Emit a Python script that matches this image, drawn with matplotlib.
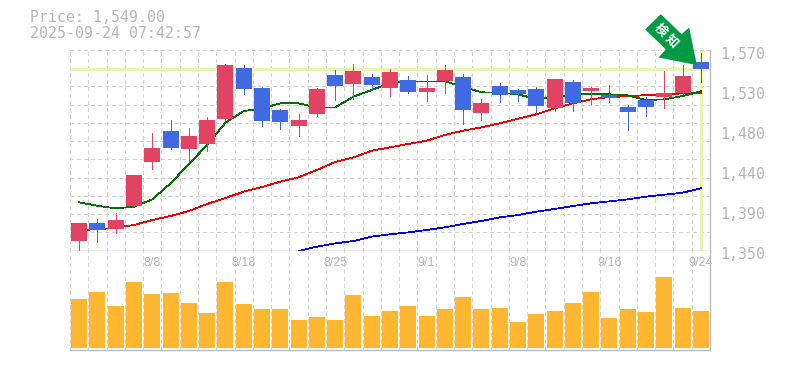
import numpy as np
import matplotlib
matplotlib.use('Agg')
import matplotlib.pyplot as plt
from matplotlib.patches import Polygon

opens = [1361, 1380, 1374, 1399, 1447, 1481, 1462, 1467, 1494, 1550, 1528, 1504,
         1487, 1500, 1543, 1533, 1540, 1528, 1537, 1524, 1536, 1540, 1501, 1530.5,
         1526, 1527, 1506, 1535, 1525, 1521, 1507.5, 1515, 1518, 1523, 1557]
closes = [1380, 1373, 1384, 1433, 1463, 1463, 1476, 1493, 1553.5, 1527, 1492, 1491,
          1493, 1527, 1530.5, 1547, 1532, 1546, 1524, 1528, 1548, 1504, 1512, 1521,
          1522, 1509, 1538, 1512, 1528, 1517.5, 1502, 1507.5, 1523, 1541.5, 1549]
highs = [1380, 1385, 1391, 1433, 1479, 1493, 1484.5, 1496.5, 1554.5, 1553.5, 1529.5, 1505,
         1500, 1528, 1548, 1554.5, 1544, 1549, 1541.5, 1542.5, 1553.5, 1544, 1516, 1534,
         1527, 1529, 1538, 1537, 1529.5, 1531.5, 1510, 1518.5, 1547, 1553.5, 1567]
lows = [1350, 1359, 1369, 1399, 1439.5, 1462, 1448, 1459, 1493, 1522, 1487, 1483,
        1476, 1497.5, 1515, 1516, 1526, 1519.5, 1523, 1514, 1523, 1489, 1493, 1513,
        1514, 1501, 1503, 1503, 1511, 1513, 1482, 1497.5, 1506.5, 1522, 1535]

ma_short = [1403, 1399.3, 1396.4, 1398.3, 1406.3, 1423.8, 1445, 1465.8, 1490.3, 1503.1, 1506, 1511.5,
            1511.5, 1507, 1507.1, 1518.8, 1526.1, 1533.8, 1535.6, 1535.6, 1535.6, 1529.8, 1523.6, 1523.2,
            1521.4, 1516.3, 1518.8, 1520.6, 1522.1, 1521.4, 1520.3, 1515.2, 1515.9, 1519.5, 1524.7]
ma_mid = [1372.7, 1373.4, 1375.2, 1378.2, 1383.6, 1388, 1393.5, 1401.2, 1407.8, 1414.7, 1419.8, 1425.7,
          1430.4, 1438.5, 1447.2, 1452.3, 1459.6, 1463.3, 1467, 1470.6, 1476.8, 1481.6, 1485.2, 1489.6,
          1494.7, 1499.5, 1506, 1511.5, 1515.9, 1518.5, 1519.2, 1520.6, 1521, 1522.5, 1523.2]
ma_long = [np.nan] * 12 + [1349.7, 1354.4, 1358, 1360.6, 1365.4, 1368, 1370.1, 1372.7, 1375.6, 1379.3, 1382.6, 1386.6,
                           1389.1, 1392.8, 1395.7, 1399, 1401.9, 1404.1, 1406.3, 1409.2, 1411.4, 1413.6, 1418.4]

volumes = [147, 168, 126, 198, 162, 165, 135, 105, 198, 132, 117, 117,
           84, 93, 84, 159, 96, 111, 126, 96, 117, 153, 117, 120,
           78, 102, 111, 135, 168, 90, 117, 108, 213, 120, 111]

date_labels = ['8/8', '8/18', '8/25', '9/1', '9/8', '9/16', '9/24']
date_index = [4, 9, 14, 19, 24, 29, 34]
price_ticks = [1570, 1526, 1482, 1438, 1394, 1350]
price_labels = ['1,570', '1,530', '1,480', '1,440', '1,390', '1,350']
last_price = 1549

GRAY = '#b6b6b6'
GRID = '#d2d2d2'
YELLOW = '#e6f5b0'
UP = '#e04462'
DOWN = '#4169e1'

W, H = 785, 370
fig = plt.figure(figsize=(W / 100, H / 100), dpi=100)
ax = fig.add_axes([70 / W, 1 - 250.7 / H, 640 / W, 200.7 / H])
vax = fig.add_axes([70 / W, 1 - 350 / H, 640 / W, 99.3 / H])

n = len(opens)
xs = np.arange(n) + 0.5

for a in (ax, vax):
    a.set_xlim(0, n)
    a.set_xticks(np.arange(n + 1))
    a.set_xticklabels([])
    a.tick_params(length=0)
    a.grid(True, color=GRID, ls=(0, (3, 3)), lw=0.72, antialiased=False)
    a.set_axisbelow(True)
    for side in ('top', 'left'):
        a.spines[side].set_visible(False)
    for side in ('bottom', 'right'):
        a.spines[side].set_color('#bbbbbb')
        a.spines[side].set_linewidth(1.0)

# price panel
ax.set_ylim(1350, 1570)
ax.set_yticks(np.arange(1350, 1571, 20))
ax.set_yticklabels([])
ax.axhline(last_price, color=YELLOW, lw=2.2, zorder=1.5)
ax.axvline(xs[-1], ymax=0.99, color=YELLOW, lw=2.2, zorder=1.5)

ax.plot(xs, ma_long, color='#0000e0', lw=0.55, zorder=2, antialiased=False)
ax.plot(xs, ma_mid, color='#ee0000', lw=0.55, zorder=2, antialiased=False)
ax.plot(xs, ma_short, color='#007000', lw=0.55, zorder=2, antialiased=False)

colors = [UP if c >= o else DOWN for o, c in zip(opens, closes)]
ax.vlines(xs, lows, highs, colors=colors, lw=0.72, zorder=3, antialiased=False)
ax.bar(xs, np.abs(np.array(closes) - np.array(opens)), bottom=np.minimum(opens, closes),
       width=0.875, color=colors, zorder=3)

for val, lbl in zip(price_ticks, price_labels):
    ax.annotate(lbl, xy=(1, val), xycoords=('axes fraction', 'data'),
                xytext=(7.5, -2.9), textcoords='offset points', va='center', ha='left',
                family='DejaVu Sans Mono', fontsize=10.7, color=GRAY, annotation_clip=False)

# volume panel
vax.set_ylim(-6, 292)
vax.set_yticks([])
vax.bar(xs, volumes, width=0.875, color='#ffb732', zorder=2)
for i, lbl in zip(date_index, date_labels):
    vax.annotate(lbl, xy=(xs[i], 1), xycoords=('data', 'axes fraction'),
                 xytext=(0, -9.2), textcoords='offset points', va='center', ha='center',
                 family='Liberation Sans', fontsize=9, color=GRAY, annotation_clip=False, zorder=5)

# header
fig.text(30 / W, 1 - 18 / H, 'Price: 1,549.00', family='DejaVu Sans Mono', fontsize=10.7,
         color=GRAY, va='center', ha='left')
fig.text(30 / W, 1 - 33 / H, '2025-09-24 07:42:57', family='DejaVu Sans Mono', fontsize=10.7,
         color=GRAY, va='center', ha='left')

# signal arrow, offsets in pixels from the last close
ax_tip = ax.transData.transform((xs[-1], last_price))
arrow_shape = np.array([(-4, 4), (-11.7, 41.7), (-19.3, 35), (-40, 55), (-55.7, 39.7), (-35, 19.7), (-42.3, 11.7)])
arrow = Polygon(arrow_shape + ax_tip, closed=True, transform=None, facecolor='#009944',
                edgecolor='none', zorder=6)
fig.add_artist(arrow)
fig.text(660 / W, 1 - 30 / H, '検', family='Noto Sans CJK JP', fontweight='bold', fontsize=9,
         color='white', rotation=-45, ha='center', va='center', zorder=7)
fig.text(672 / W, 1 - 41 / H, '知', family='Noto Sans CJK JP', fontweight='bold', fontsize=9,
         color='white', rotation=-45, ha='center', va='center', zorder=7)

fig.savefig('out.png', dpi=100)
